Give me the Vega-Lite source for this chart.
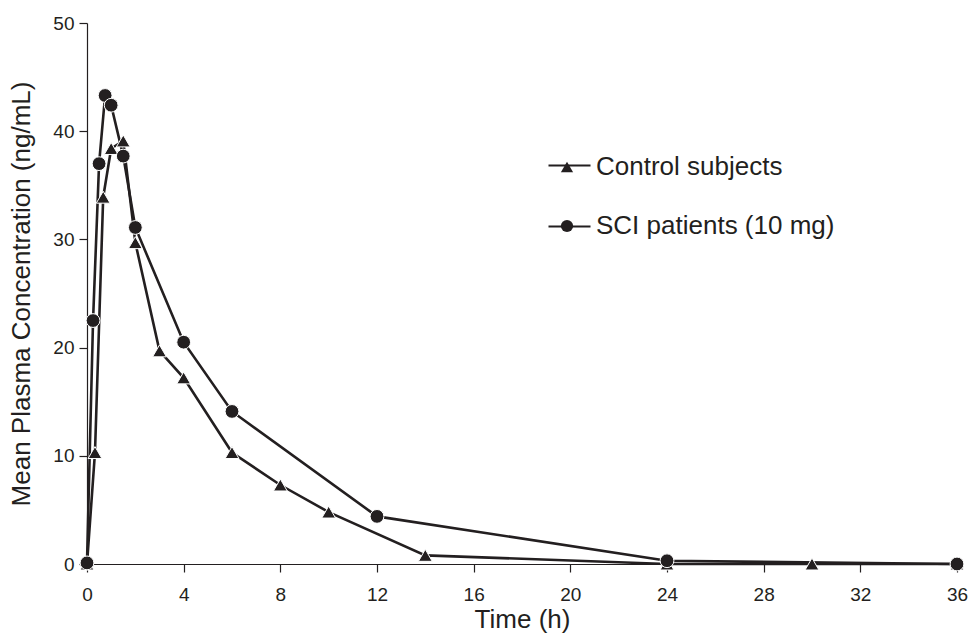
{
  "$schema": "https://vega.github.io/schema/vega-lite/v6.json",
  "width": 870,
  "height": 541,
  "autosize": {"type": "none"},
  "padding": {"left": 87, "top": 23, "right": 11, "bottom": 74},
  "background": "white",
  "config": {
    "view": {"stroke": null},
    "font": "Liberation Sans",
    "axis": {
      "grid": false,
      "domainColor": "#231f20",
      "domainWidth": 1.2,
      "tickColor": "#231f20",
      "tickWidth": 1.2,
      "tickSize": 8,
      "labelColor": "#231f20",
      "labelFont": "Liberation Sans",
      "labelFontSize": 19,
      "titleColor": "#231f20",
      "titleFont": "Liberation Sans",
      "titleFontSize": 26,
      "titleFontWeight": "normal"
    }
  },
  "data": {
    "values": [
      {"group": "Control subjects", "time": 0, "conc": 0},
      {"group": "Control subjects", "time": 0.33, "conc": 10.3},
      {"group": "Control subjects", "time": 0.67, "conc": 33.9},
      {"group": "Control subjects", "time": 1, "conc": 38.4},
      {"group": "Control subjects", "time": 1.5, "conc": 39.1},
      {"group": "Control subjects", "time": 2, "conc": 29.7},
      {"group": "Control subjects", "time": 3, "conc": 19.7},
      {"group": "Control subjects", "time": 4, "conc": 17.2},
      {"group": "Control subjects", "time": 6, "conc": 10.3},
      {"group": "Control subjects", "time": 8, "conc": 7.3},
      {"group": "Control subjects", "time": 10, "conc": 4.8},
      {"group": "Control subjects", "time": 14, "conc": 0.8},
      {"group": "Control subjects", "time": 24, "conc": 0},
      {"group": "Control subjects", "time": 30, "conc": 0},
      {"group": "Control subjects", "time": 36, "conc": 0},
      {"group": "SCI patients (10 mg)", "time": 0, "conc": 0.1},
      {"group": "SCI patients (10 mg)", "time": 0.25, "conc": 22.5},
      {"group": "SCI patients (10 mg)", "time": 0.5, "conc": 37.0},
      {"group": "SCI patients (10 mg)", "time": 0.75, "conc": 43.3},
      {"group": "SCI patients (10 mg)", "time": 1, "conc": 42.4},
      {"group": "SCI patients (10 mg)", "time": 1.5, "conc": 37.7},
      {"group": "SCI patients (10 mg)", "time": 2, "conc": 31.1},
      {"group": "SCI patients (10 mg)", "time": 4, "conc": 20.5},
      {"group": "SCI patients (10 mg)", "time": 6, "conc": 14.1},
      {"group": "SCI patients (10 mg)", "time": 12, "conc": 4.4},
      {"group": "SCI patients (10 mg)", "time": 24, "conc": 0.3},
      {"group": "SCI patients (10 mg)", "time": 36, "conc": 0}
    ]
  },
  "encoding": {
    "x": {
      "field": "time",
      "type": "quantitative",
      "title": "Time (h)",
      "scale": {"domain": [0, 36], "nice": false, "zero": true},
      "axis": {"values": [0, 4, 8, 12, 16, 20, 24, 28, 32, 36], "labelPadding": 13, "titlePadding": 2, "labelFlush": false}
    },
    "y": {
      "field": "conc",
      "type": "quantitative",
      "title": "Mean Plasma Concentration (ng/mL)",
      "scale": {"domain": [0, 50], "nice": false},
      "axis": {"values": [0, 10, 20, 30, 40, 50], "labelPadding": 5, "titlePadding": 18, "labelFlush": false}
    }
  },
  "layer": [
    {
      "mark": {"type": "line", "strokeWidth": 2.6},
      "encoding": {
        "color": {
          "field": "group",
          "type": "nominal",
          "scale": {"domain": ["SCI patients (10 mg)", "Control subjects"], "range": ["#231f20", "#231f20"]},
          "legend": {
            "title": null,
            "orient": "none",
            "legendX": 460,
            "legendY": 120,
            "labelFont": "Liberation Sans",
            "labelFontSize": 26,
            "labelExpr": "''",
            "labelLimit": 0,
            "rowPadding": 25,
            "padding": 0,
            "symbolType": "stroke",
            "symbolSize": 1764,
            "symbolStrokeWidth": 2.2
          }
        }
      }
    },
    {
      "mark": {"type": "point", "filled": true, "fill": "#231f20", "stroke": "white", "strokeWidth": 1, "opacity": 1, "size": 190},
      "encoding": {
        "shape": {
          "field": "group",
          "type": "nominal",
          "scale": {"domain": ["Control subjects", "SCI patients (10 mg)"], "range": ["triangle-up", "circle"]},
          "legend": {
            "title": null,
            "orient": "none",
            "legendX": 467,
            "legendY": 131,
            "labelFont": "Liberation Sans",
            "labelFontSize": 26,
            "labelColor": "#231f20",
            "labelLimit": 0,
            "labelOffset": 16,
            "rowPadding": 33,
            "padding": 0,
            "symbolSize": 150,
            "symbolStrokeWidth": 0,
            "symbolFillColor": "#231f20",
            "symbolOpacity": 1
          }
        }
      }
    }
  ]
}
